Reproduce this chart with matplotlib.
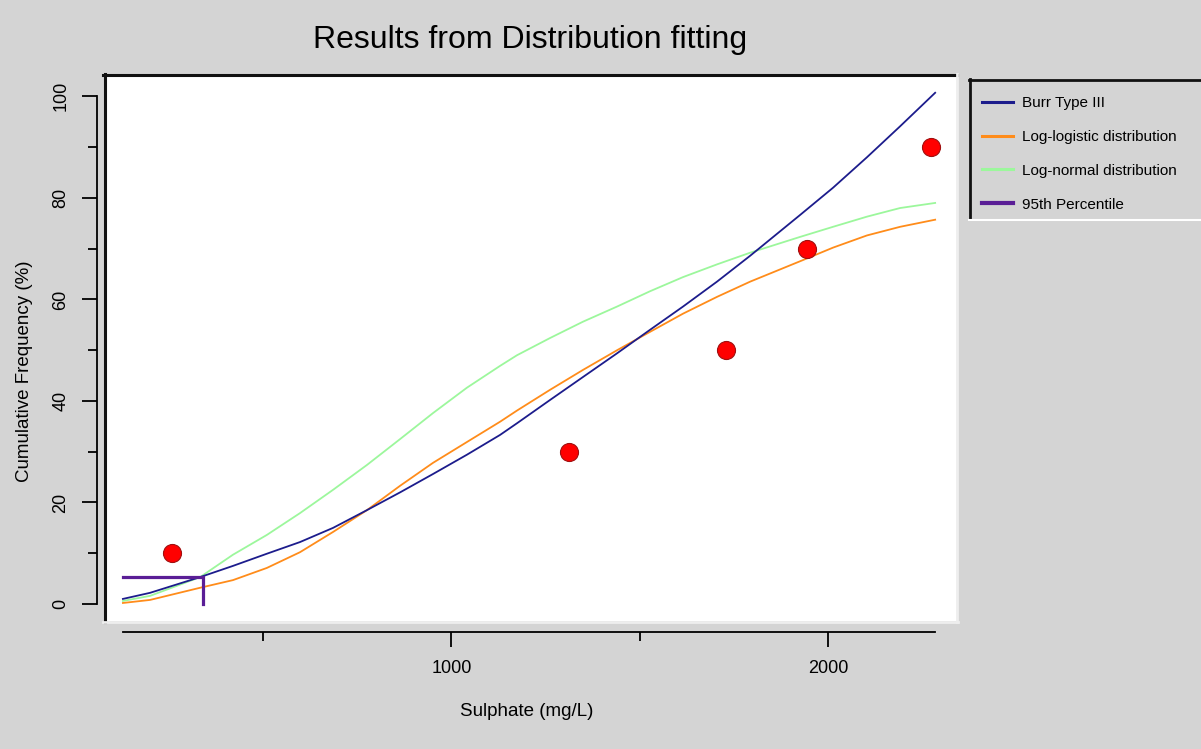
import matplotlib
matplotlib.use("Agg")
import matplotlib.pyplot as plt
from matplotlib.lines import Line2D

plt.rcParams['font.family'] = ['Liberation Sans', 'DejaVu Sans']

# fitted curves
x_fit = [128, 200, 333, 420, 510, 598, 686, 776, 864, 951, 1041, 1129, 1174,
         1262, 1349, 1440, 1527, 1615, 1705, 1793, 1925, 2013, 2103, 2191, 2284]
burr = [1.0, 2.2, 5.3, 7.5, 9.9, 12.2, 15.0, 18.5, 22.0, 25.6, 29.4, 33.3, 35.6,
        40.2, 44.7, 49.4, 54.0, 58.6, 63.5, 68.6, 76.6, 82.0, 88.0, 94.1, 100.7]
loglogistic = [0.2, 0.8, 3.2, 4.7, 7.1, 10.2, 14.2, 18.5, 23.3, 27.8, 31.9, 35.9, 38.1,
               42.2, 46.1, 50.0, 53.6, 57.2, 60.5, 63.5, 67.5, 70.2, 72.6, 74.3, 75.7]
lognormal = [0.6, 1.6, 5.3, 9.7, 13.6, 17.9, 22.5, 27.4, 32.5, 37.6, 42.6, 46.9, 49.0,
             52.4, 55.6, 58.6, 61.6, 64.4, 66.9, 69.2, 72.3, 74.3, 76.3, 78.0, 79.0]

# observed points
x_obs = [258, 1312, 1729, 1944, 2273]
y_obs = [10, 30, 50, 70, 90]

# percentile marker
pct_x = [128, 341, 341]
pct_y = [5.3, 5.3, 0]

labels = ['Burr Type III', 'Log-logistic distribution', 'Log-normal distribution', '95th Percentile']
colors = ['#1c1c8c', '#ff8c1a', '#9cf79c', '#5a1e96']

W, H = 1201, 749
bg = '#d4d4d4'


def fx(p):
    return p / W


def fy(p):
    return 1 - p / H


fig = plt.figure(figsize=(W / 100, H / 100), dpi=100, facecolor=bg)
ax = fig.add_axes([fx(104), fy(621), (957 - 104) / W, (621 - 74) / H])
ax.set_facecolor('white')

ax.plot(x_fit, lognormal, color=colors[2], lw=1.3)
ax.plot(x_fit, loglogistic, color=colors[1], lw=1.3)
ax.plot(x_fit, burr, color=colors[0], lw=1.3)
ax.plot(pct_x, pct_y, color=colors[3], lw=2.3, solid_joinstyle='miter')
ax.plot(x_obs, y_obs, 'o', ms=13, mfc='#ff0000', mec='#a01010', mew=0.8, zorder=5)

ax.set_xlim(77.8, 2342)
ax.set_ylim(-3.35, 104.4)

for s in ['top', 'right']:
    ax.spines[s].set_visible(False)
ax.spines['left'].set_position(('outward', 5))
ax.spines['left'].set_bounds(0, 100)
ax.spines['bottom'].set_position(('outward', 8))
ax.spines['bottom'].set_bounds(128, 2284)
for s in ['left', 'bottom']:
    ax.spines[s].set_linewidth(1.3)

ax.set_xticks([1000, 2000])
ax.set_xticks([500, 1500], minor=True)
ax.set_yticks([0, 20, 40, 60, 80, 100])
ax.set_yticks([10, 30, 50, 70, 90], minor=True)
ax.tick_params(which='major', length=11, width=1.3, labelsize=13)
ax.tick_params(which='minor', length=6.5, width=1.3)
ax.tick_params(axis='x', which='major', pad=9)
ax.tick_params(axis='y', which='major', pad=9)
for t in ax.get_yticklabels():
    t.set_rotation(90)
    t.set_va('center')

# panel border (dark top/left, light bottom/right)
fig.add_artist(Line2D([fx(103), fx(957)], [fy(75), fy(75)], color='#111111', lw=2.2, transform=fig.transFigure))
fig.add_artist(Line2D([fx(104.5), fx(104.5)], [fy(74), fy(622)], color='#111111', lw=2.2, transform=fig.transFigure))
fig.add_artist(Line2D([fx(103), fx(958)], [fy(622), fy(622)], color='#eeeeee', lw=2, transform=fig.transFigure))
fig.add_artist(Line2D([fx(957), fx(957)], [fy(74), fy(622)], color='#eeeeee', lw=2, transform=fig.transFigure))

fig.text(fx(530), fy(40), 'Results from Distribution fitting', ha='center', va='center', fontsize=23)
fig.text(fx(527), fy(712), 'Sulphate (mg/L)', ha='center', va='center', fontsize=13.5)
fig.text(fx(25), fy(371), 'Cumulative Frequency (%)', ha='center', va='center', rotation=90, fontsize=13.5)

# legend
handles = [Line2D([], [], color=c, lw=2.2 if i < 3 else 3) for i, c in enumerate(colors)]
fig.legend(handles, labels, loc='upper left', bbox_to_anchor=(fx(982), fy(96)),
           frameon=False, borderpad=0, borderaxespad=0, handlelength=2.0,
           handletextpad=0.6, labelspacing=1.3, fontsize=11)
fig.add_artist(Line2D([fx(969), fx(1201)], [fy(80), fy(80)], color='#111111', lw=2, transform=fig.transFigure))
fig.add_artist(Line2D([fx(970), fx(970)], [fy(79), fy(219)], color='#111111', lw=2, transform=fig.transFigure))
fig.add_artist(Line2D([fx(969), fx(1201)], [fy(219.5), fy(219.5)], color='white', lw=1.5, transform=fig.transFigure))

fig.savefig('out.png', dpi=100, facecolor=bg)
